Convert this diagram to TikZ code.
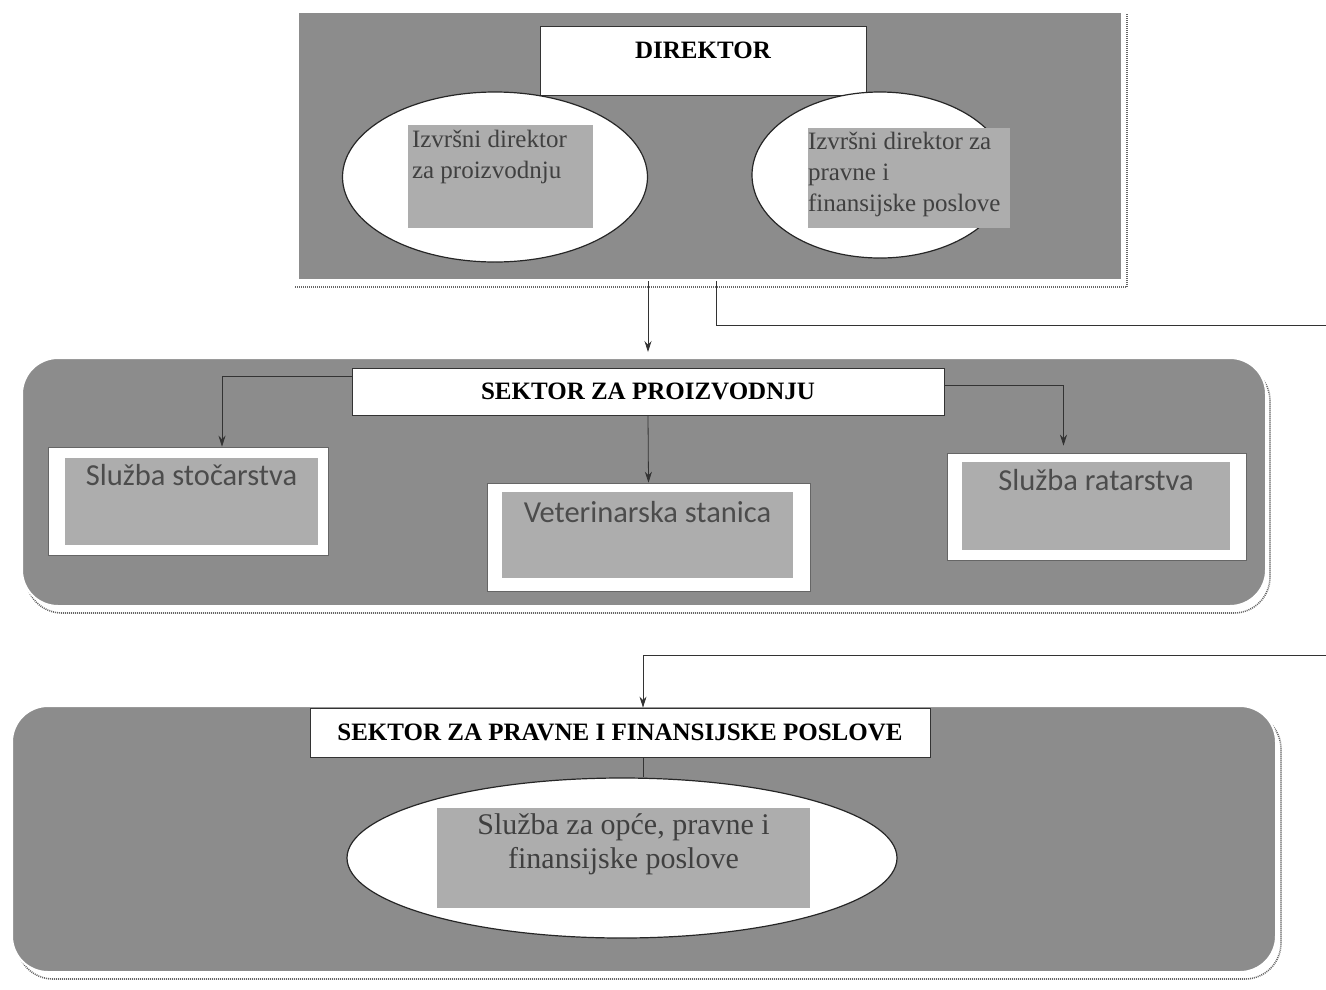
\documentclass[tikz,border=0pt]{standalone}
\usepackage{fontspec}
\setmainfont{Liberation Serif}
\newfontfamily\calibrifont{Carlito}
\usepackage{tikz}
\usetikzlibrary{shapes.geometric, arrows.meta, positioning}
\definecolor{panelgray}{gray}{0.55}
\definecolor{patchgray}{gray}{0.68}
\definecolor{shadowgray}{gray}{0.40}
\tikzset{
    panel/.style={rectangle, fill=panelgray, draw=white, line width=2pt},
    roundpanel/.style={panel, rounded corners=36pt},
    panelshade/.style={rectangle, rounded corners=36pt, draw=shadowgray, line width=1.6pt, dash pattern=on 1pt off 1pt},
    titlebox/.style={rectangle, draw=black!80, fill=white, line width=0.8pt, font=\fontsize{25}{29}\selectfont\bfseries},
    oval/.style={ellipse, draw=black!85, fill=white, line width=1.2pt, inner sep=0pt},
    patch/.style={rectangle, fill=patchgray, inner sep=0pt},
    servicebox/.style={rectangle, draw=black!60, fill=white, line width=0.6pt},
    ovaltext/.style={align=left, inner sep=0pt, text=black!75, font=\fontsize{25}{31}\selectfont},
    servicetext/.style={inner sep=0pt, text=black!70, font=\calibrifont\fontsize{30.5}{34}\selectfont},
    arrow/.style={-{Stealth[length=11pt, width=7pt]}, line width=0.8pt, draw=black!80},
    link/.style={line width=1pt, draw=black!80}
}
\begin{document}
\begin{tikzpicture}[x=1pt, y=-1pt]
    \useasboundingbox (0,0) rectangle (1326,989);

    % panels
    \draw[shadowgray, line width=1.6pt, dash pattern=on 1pt off 1pt] (295,287) -| (1127,14);
    \node (toppanel) [panel, minimum width=824pt, minimum height=268pt] at (710,146) {};
    \node (midshade) [panelshade, minimum width=1244pt, minimum height=248pt] at (648,489) {};
    \node (midpanel) [roundpanel, minimum width=1244pt, minimum height=248pt] at (644,482) {};
    \node (botshade) [panelshade, minimum width=1264pt, minimum height=266pt] at (649,846) {};
    \node (botpanel) [roundpanel, minimum width=1264pt, minimum height=266pt] at (644,839) {};

    % director
    \node (dir) [titlebox, minimum width=326pt, minimum height=69pt, text height=17pt, text depth=22pt] at (703,60.5) {DIREKTOR};
    \node (lexec) [oval, minimum width=305pt, minimum height=170pt] at (495,177) {};
    \node (lpatch) [patch, minimum width=185pt, minimum height=103pt] at (500.5,176.5) {};
    \node (ltext) [ovaltext, below right=5pt and 4pt of lpatch.north west] {Izvršni direktor\\za proizvodnju};
    \node (rexec) [oval, minimum width=256pt, minimum height=166pt] at (880,175) {};
    \node (rpatch) [patch, minimum width=202pt, minimum height=100pt] at (909,178) {};
    \node (rtext) [ovaltext, below right=4pt and 0pt of rpatch.north west] {Izvršni direktor za\\pravne i\\finansijske poslove};

    % production sector
    \node (prodbox) [titlebox, minimum width=592pt, minimum height=47pt] at (648,391.5) {SEKTOR ZA PROIZVODNJU};
    \node (stoc) [servicebox, minimum width=280pt, minimum height=108pt] at (188,501) {};
    \node (stocpatch) [patch, minimum width=253pt, minimum height=87pt] at (191.5,501.5) {};
    \node (stoctext) [servicetext, below=6pt of stocpatch.north] {Služba stočarstva};
    \node (vet) [servicebox, minimum width=323pt, minimum height=108pt] at (648.5,537) {};
    \node (vetpatch) [patch, minimum width=291pt, minimum height=86pt] at (647.5,535) {};
    \node (vettext) [servicetext, below=9pt of vetpatch.north] {Veterinarska stanica};
    \node (ratar) [servicebox, minimum width=299pt, minimum height=107pt] at (1096.5,506.5) {};
    \node (ratarpatch) [patch, minimum width=268pt, minimum height=88pt] at (1096,506) {};
    \node (ratartext) [servicetext, below=7pt of ratarpatch.north] {Služba ratarstva};

    % legal and finance sector
    \node (pravbox) [titlebox, minimum width=620pt, minimum height=49pt] at (620,732.5) {SEKTOR ZA PRAVNE I FINANSIJSKE POSLOVE};
    \node (opce) [oval, minimum width=550pt, minimum height=160pt] at (622,858) {};
    \node (opcepatch) [patch, minimum width=373pt, minimum height=100pt] at (623.5,858) {};
    \node (opcetext) [ovaltext, align=center, font=\fontsize{30}{34}\selectfont, below=6pt of opcepatch.north] {Služba za opće, pravne i\\finansijske poslove};

    \coordinate (outtop) at (1332,325);
    \coordinate (outbot) at (1332,655);

    \draw[arrow] (prodbox.north |- toppanel.south) -- ([yshift=5pt]prodbox.north |- midpanel.north);
    \draw[arrow] ([xshift=6pt]toppanel.south) |- (outtop) -- (outbot) -| ([xshift=23pt]pravbox.north);
    \draw[arrow] ([yshift=15pt]prodbox.west) -| ([xshift=34pt]stoc.north);
    \draw[arrow, shorten >=7pt] ([yshift=6pt]prodbox.east) -| ([xshift=-33pt]ratar.north);
    \draw[arrow] (prodbox.south) -- (vet.north);
    \draw[link] ([xshift=23pt]pravbox.south) -- ([xshift=23pt]pravbox.south |- opce.north);
\end{tikzpicture}
\end{document}
